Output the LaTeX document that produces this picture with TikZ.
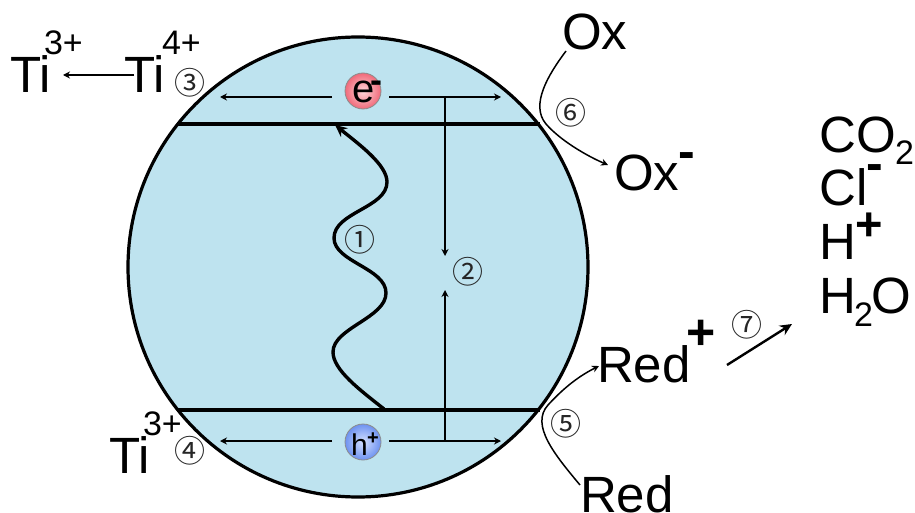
\documentclass[tikz,border=0pt]{standalone}
\usepackage{fontspec}
\setmainfont{Liberation Sans}
\newfontfamily\cjkfont{Noto Sans CJK JP}
\usetikzlibrary{arrows.meta}
\definecolor{bodyblue}{HTML}{BEE3EF}
\definecolor{pinkin}{HTML}{FFD6DA}
\definecolor{pinkout}{HTML}{F06A7A}
\definecolor{bluein}{HTML}{D4E0FF}
\definecolor{blueout}{HTML}{6E92F0}
\tikzset{
  x=1pt,y=-1pt,
  lab/.style={anchor=base west,inner sep=0pt,outer sep=0pt,text=black},
  big/.style={lab,font=\fontsize{51}{51}\selectfont},
  sup/.style={lab,font=\fontsize{34}{34}\selectfont},
  num/.style={inner sep=0pt,outer sep=0pt,font=\fontsize{31}{31}\cjkfont,text=black!85},
  thin arrow/.style={line width=1.5pt,-{Stealth[length=7pt,width=7pt]}},
  band/.style={line width=3.6pt},
  ball/.style={circle,draw=black!45,line width=0.8pt,minimum size=36pt,inner sep=0pt},
}
\begin{document}
\begin{tikzpicture}
\useasboundingbox (0,0) rectangle (915,513);
% particle
\node[circle,draw=black,line width=3.2pt,fill=bodyblue,minimum size=460pt,inner sep=0pt] (body) at (358,267) {};
% bands
\coordinate (cbL) at (178,124); \coordinate (cbR) at (540,124);
\coordinate (vbL) at (178,410); \coordinate (vbR) at (540,410);
\draw[band] (cbL) -- (cbR);
\draw[band] (vbL) -- (vbR);
% carriers
\node[ball,inner color=pinkin,outer color=pinkout] (e) at (363,91) {};
\node[lab,font=\fontsize{40}{40}\selectfont] (etxt) at (352,103) {e};
\node[lab,font=\bfseries\fontsize{36}{36}\selectfont] (emin) at (370,93) {-};
\node[ball,inner color=bluein,outer color=blueout] (h) at (363,442) {};
\node[lab,font=\fontsize{30}{30}\selectfont] (htxt) at (351,455) {h};
\node[lab,font=\bfseries\fontsize{20}{20}\selectfont] (hplus) at (367,444) {+};
% horizontal arrows
\coordinate (eLs) at (332,97); \coordinate (eLe) at (220,97);
\coordinate (eRs) at (389,97); \coordinate (eRe) at (501,97);
\coordinate (hLs) at (332,441); \coordinate (hLe) at (220,441);
\coordinate (hRs) at (389,441); \coordinate (hRe) at (501,441);
\draw[thin arrow] (eLs) -- (eLe);
\draw[thin arrow] (eRs) -- (eRe);
\draw[thin arrow] (hLs) -- (hLe);
\draw[thin arrow] (hRs) -- (hRe);
% recombination
\coordinate (r1) at (445,97); \coordinate (r1e) at (445,256);
\coordinate (r2) at (445,441); \coordinate (r2e) at (445,290);
\draw[thin arrow] (r1) -- (r1e);
\draw[thin arrow] (r2) -- (r2e);
% excitation wave
\coordinate (w0) at (384,409); \coordinate (w1) at (333,352);
\coordinate (w2) at (386,293); \coordinate (w3) at (334,238);
\coordinate (w4) at (387,182); \coordinate (w5) at (335,125);
\draw[line width=3.4pt,-{Stealth[length=12pt,width=11pt]}]
  (w0) .. controls (360,390) and (333,370) .. (w1)
       .. controls (333,328) and (386,318) .. (w2)
       .. controls (386,268) and (334,262) .. (w3)
       .. controls (334,212) and (387,208) .. (w4)
       .. controls (387,165) and (360,145) .. (w5);
% Ti labels
\node[big] (ti1) at (10,93) {Ti};
\node[sup] (ti1s) at (44,55) {3+};
\node[big] (ti2) at (124,93) {Ti};
\node[sup] (ti2s) at (162,55) {4+};
\node[big] (ti4) at (109,473) {Ti};
\node[sup] (ti4s) at (143,435) {3+};
\coordinate (tiA) at (134,75); \coordinate (tiB) at (63,75);
\draw[thin arrow] (tiA) -- (tiB);
% Ox
\node[big] (ox) at (562,50) {Ox};
\node[big] (oxm) at (614,190) {Ox};
\node[lab,font=\bfseries\fontsize{50}{50}\selectfont] (oxminus) at (678,169) {-};
\coordinate (oxs) at (566,51); \coordinate (oxe) at (608,165);
\draw[thin arrow] (oxs) .. controls (548,75) and (530,105) .. (546,124) .. controls (560,140) and (585,155) .. (oxe);
% Red
\node[big] (redp) at (597,382) {Red};
\node[lab,font=\bfseries\fontsize{50}{50}\selectfont] (redplus) at (686,349) {+};
\node[big] (red) at (580,512) {Red};
\coordinate (reds) at (580,485); \coordinate (rede) at (599,366);
\draw[thin arrow] (reds) .. controls (555,455) and (530,425) .. (548,405) .. controls (560,392) and (575,378) .. (rede);
% products
\node[big] (co) at (819.5,153) {CO};
\node[sup] (co2) at (895,165) {2};
\node[big] (cl) at (819.5,205) {Cl};
\node[lab,font=\bfseries\fontsize{50}{50}\selectfont] (clm) at (866,181) {-};
\node[big] (hp) at (819,259) {H};
\node[lab,font=\bfseries\fontsize{47}{47}\selectfont] (hps) at (855,240) {+};
\node[big] (h2) at (819,313) {H};
\node[sup] (h22) at (854,326) {2};
\node[big] (h2o) at (871,313) {O};
\coordinate (as) at (727,365); \coordinate (ae) at (792,324);
\draw[line width=2.4pt,-{Stealth[length=12pt,width=11pt]}] (as) -- (ae);
% step numbers
\node[num] (n1) at (360,240) {①};
\node[num] (n2) at (468,272) {②};
\node[num] (n3) at (190,83) {③};
\node[num] (n4) at (190,451) {④};
\node[num] (n5) at (566,424) {⑤};
\node[num] (n6) at (571,113) {⑥};
\node[num] (n7) at (747,325) {⑦};
\end{tikzpicture}
\end{document}
